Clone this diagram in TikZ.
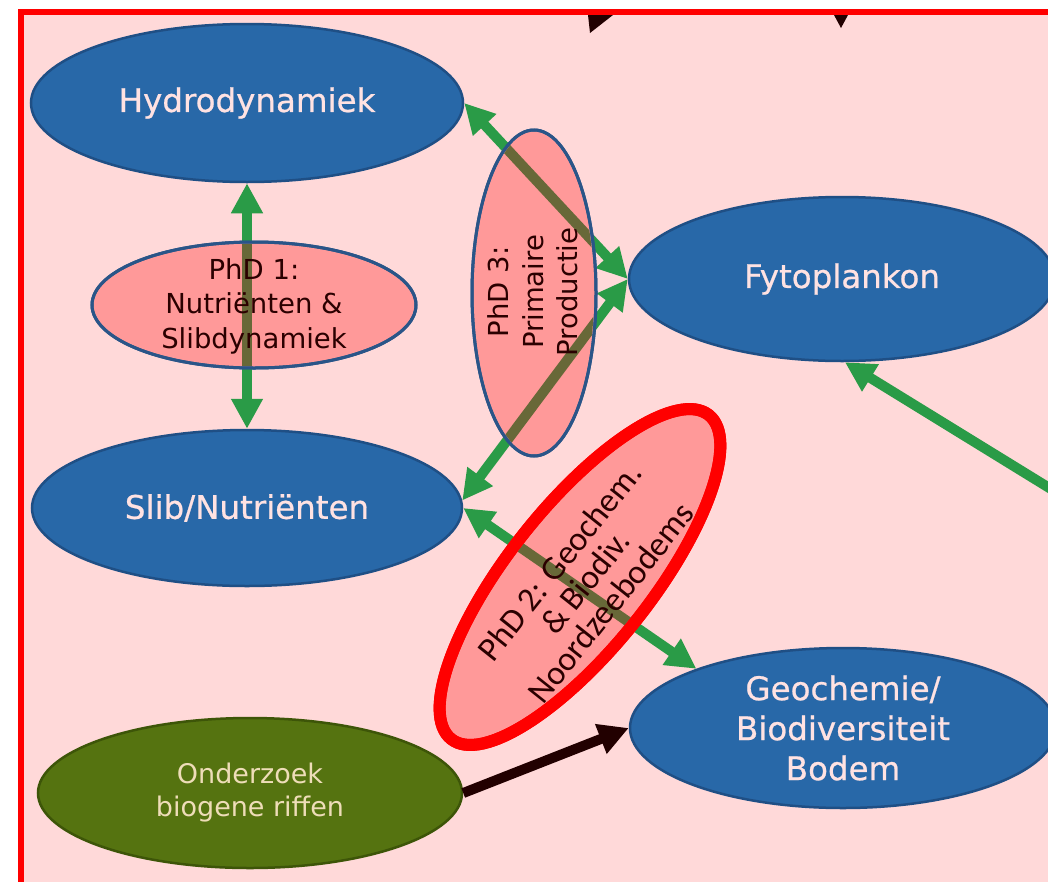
\documentclass[tikz,border=0pt]{standalone}
\usepackage{fontspec}
\setmainfont{DejaVu Sans}
\newfontfamily\topicfont{DejaVu Sans}[FakeBold=0.7]
\newfontfamily\projfont{Carlito}
\usetikzlibrary{shapes.geometric,arrows.meta}

\definecolor{panelpink}{HTML}{FFD9D9}
\definecolor{framered}{HTML}{FF0000}
\definecolor{topicblue}{HTML}{2868A8}
\definecolor{topicedge}{HTML}{1F4F85}
\definecolor{topictext}{HTML}{FFE2E2}
\definecolor{phdfill}{HTML}{FF9999}
\definecolor{phdedge}{HTML}{2A5588}
\definecolor{phdtext}{HTML}{2B0000}
\definecolor{reeffill}{HTML}{557310}
\definecolor{reefedge}{HTML}{3D5508}
\definecolor{reeftext}{HTML}{EEDDB8}
\definecolor{linkgreen}{HTML}{2A9B47}
\definecolor{linkolive}{HTML}{686838}
\definecolor{linkdark}{HTML}{220000}

\tikzset{fattri/.tip={Triangle[length=30pt,width=30pt]}}

\begin{document}
\begin{tikzpicture}[x=1pt,y=-1pt,
  topic/.style={ellipse, draw=topicedge, line width=2.5pt, fill=topicblue, inner sep=0pt},
  topiclabel/.style={align=center, text=topictext, font=\topicfont\fontsize{32.5}{40}\selectfont},
  phd/.style={ellipse, draw=phdedge, line width=3pt, fill=phdfill, inner sep=0pt},
  phdlabel/.style={align=center, text=phdtext, font=\fontsize{27.5}{34.5}\selectfont},
  reef/.style={ellipse, draw=reefedge, line width=2.5pt, fill=reeffill, inner sep=0pt},
  reeflabel/.style={align=center, text=reeftext, font=\fontsize{27}{33}\selectfont},
  twoway/.style={draw=linkgreen, line width=10pt, arrows={fattri-fattri}},
  oneway/.style={draw=linkgreen, line width=10pt, arrows={-fattri}},
  underlay/.style={draw=linkolive, line width=10pt}]

\useasboundingbox (0,0) rectangle (1048,881);
\clip (0,0) rectangle (1048,881);
\fill[white] (0,0) rectangle (1048,881);

% panel with red frame
\draw[framered, line width=6pt, fill=panelpink] (20.5,12) rectangle (1080,910);

% tips of the incoming arrows at the top edge
\fill[linkdark] (588,15) -- (613,15) -- (590,33) -- cycle;
\fill[linkdark] (834,15) -- (848,15) -- (841,28) -- cycle;

% topic ellipses
\node[topic, minimum width=432pt, minimum height=158pt] (H) at (247,103) {};
\node[topic, minimum width=430pt, minimum height=156pt] (S) at (247,508) {};
\node[topic, minimum width=426pt, minimum height=164pt] (F) at (842,279) {};
\node[topic, minimum width=426pt, minimum height=160pt] (G) at (843,728) {};
\node[reef, minimum width=424pt, minimum height=150pt] (O) at (250,793) {};
\coordinate (Fin) at (1090,513);

% connectors
\draw[twoway] (H.south) -- (S.north);
\draw[twoway] (H.east) -- (F.west);
\draw[twoway] (F.west) -- (S.2);
\draw[twoway] (S.east) -- (G.158);
\draw[oneway] (Fin) -- (F.-88);
\draw[draw=linkdark, line width=10pt, arrows={-fattri}] (O.east) -- (G.west);

% PhD ellipses over the connectors
\node[phd, minimum width=324pt, minimum height=126pt] (P1) at (254,305) {};
\node[phd, minimum width=124pt, minimum height=326pt] (P3) at (534,293) {};
\node[ellipse, draw=framered, line width=12pt, fill=phdfill, inner sep=0pt,
      minimum width=414pt, minimum height=142pt, rotate=51.5] (P2) at (580,577) {};

% connectors seen through the PhD ellipses
\begin{scope}
  \clip (P1.center) ellipse [x radius=160pt, y radius=61pt];
  \draw[underlay] (H.south) -- (S.north);
\end{scope}
\begin{scope}
  \clip (P3.center) ellipse [x radius=60pt, y radius=161pt];
  \draw[underlay] (H.east) -- (F.west);
  \draw[underlay] (F.west) -- (S.2);
\end{scope}
\begin{scope}
  \clip[rotate around={51.5:(P2.center)}] (P2.center) ellipse [x radius=201pt, y radius=65pt];
  \draw[underlay] (S.east) -- (G.158);
\end{scope}
\draw[phdedge, line width=3pt] (P1.center) ellipse [x radius=162pt, y radius=63pt];
\draw[phdedge, line width=3pt] (P3.center) ellipse [x radius=62pt, y radius=163pt];
\draw[framered, line width=12pt, rotate around={51.5:(P2.center)}] (P2.center) ellipse [x radius=207pt, y radius=71pt];

% labels
\node[topiclabel] (Ht) at (H) {Hydrodynamiek};
\node[topiclabel] (St) at (S) {Slib/Nutriënten};
\node[topiclabel] (Ft) at (F) {Fytoplankon};
\node[topiclabel] (Gt) at (G) {Geochemie/\\Biodiversiteit\\Bodem};
\node[reeflabel] (Ot) at (O) {Onderzoek\\biogene riffen};
\node[phdlabel] (P1t) at (254,306) {PhD 1:\\Nutriënten \&\\Slibdynamiek};
\node[phdlabel, rotate=90] (P3t) at (533,292) {PhD 3:\\Primaire\\Productie};
\node[align=center, text=phdtext, font=\projfont\fontsize{34}{33}\selectfont, rotate=51.5]
  (P2t) at (585,582) {PhD 2: Geochem.\\\& Biodiv.\\Noordzeebodems};
\end{tikzpicture}
\end{document}
